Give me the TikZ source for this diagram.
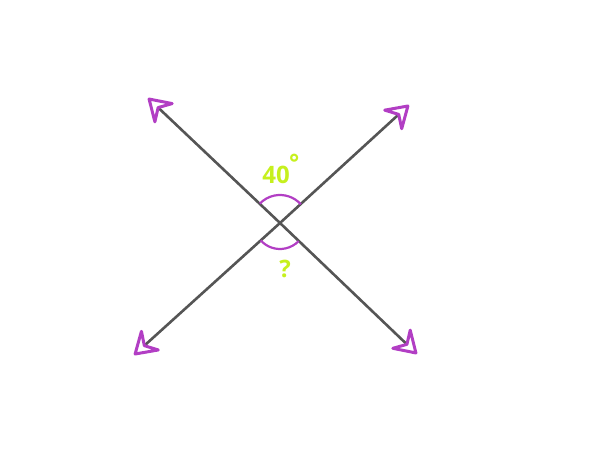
\documentclass[tikz,border=0pt]{standalone}
\usepackage{fontspec}
\setmainfont{Open Sans}
\usetikzlibrary{arrows.meta}
\definecolor{lineg}{RGB}{85,85,85}
\definecolor{tipp}{RGB}{178,62,196}
\definecolor{labg}{RGB}{198,240,30}
\begin{document}
\begin{tikzpicture}[x=1pt,y=1pt,
  ray/.style={draw=lineg,line width=2.6pt,
    arrows={-Stealth[open,length=27pt,width=34pt,inset=10pt,color=tipp,line width=3pt,round]}},
  anglearc/.style={draw=tipp,line width=2.2pt},
  lab/.style={text=labg,font=\bfseries\fontsize{24}{24}\selectfont,inner sep=0pt}]
\path[use as bounding box] (0,0) rectangle (600,450);
\coordinate (O) at (280,227);
\coordinate (TL) at (148,352);
\coordinate (TR) at (409,345);
\coordinate (BL) at (134,95);
\coordinate (BR) at (417,96);
\draw[ray] (O) -- (TL);
\draw[ray] (O) -- (TR);
\draw[ray] (O) -- (BL);
\draw[ray] (O) -- (BR);
\draw[anglearc] ([shift={(42:28)}]O) arc[start angle=42,end angle=136,radius=28];
\draw[anglearc] ([shift={(222:26)}]O) arc[start angle=222,end angle=316,radius=26];
\node[lab] (a40) at (276,275) {40};
\node[lab,anchor=west] (deg) at (a40.east) [yshift=12pt,xshift=-1pt] {°};
\node[lab] (q) at (285,181) {?};
\end{tikzpicture}
\end{document}
